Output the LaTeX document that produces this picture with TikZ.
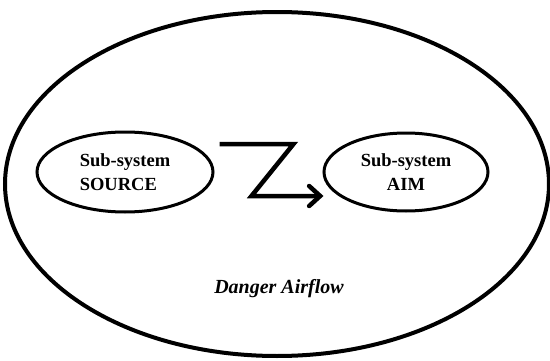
\documentclass[tikz,border=0pt]{standalone}
\usepackage{fontspec}
\setmainfont{Liberation Serif}
\usetikzlibrary{shapes.geometric,arrows.meta}
\begin{document}
\begin{tikzpicture}[x=1pt,y=1pt,
  region/.style={draw=black,ellipse,line width=4pt,inner sep=0pt},
  subsys/.style={draw=black,ellipse,line width=3pt,inner sep=0pt,
    font=\fontsize{18.5}{24}\selectfont\bfseries},
  zflow/.style={line width=4.5pt,line join=miter,
    -{Straight Barb[length=11pt,width=20pt,line cap=round]}},
  caption/.style={font=\fontsize{20}{24}\selectfont\bfseries\itshape}]
  \useasboundingbox (0,0) rectangle (550,360);
  \fill[white] (0,0) rectangle (550,360);
  % surrounding environment
  \node[region,minimum width=544pt,minimum height=344pt] (env) at (277,176) {};
  % the two sub-systems
  \node[subsys,minimum width=176pt,minimum height=80pt,align=left] (src) at (125,188) {Sub-system\\SOURCE};
  \node[subsys,minimum width=164pt,minimum height=78pt,align=center] (aim) at (406,188) {Sub-system\\AIM};
  % zig-zag transfer from source to aim
  \coordinate (zstart) at ([xshift=5pt,yshift=28pt]src.east);
  \coordinate (ztip) at ([xshift=1pt,yshift=-24pt]aim.west);
  \draw[zflow] (zstart) -- ++(74,0) -- ++(-42,-52) -- (ztip);
  \node[caption,anchor=base] (flow) at (279,67) {Danger Airflow};
\end{tikzpicture}
\end{document}
